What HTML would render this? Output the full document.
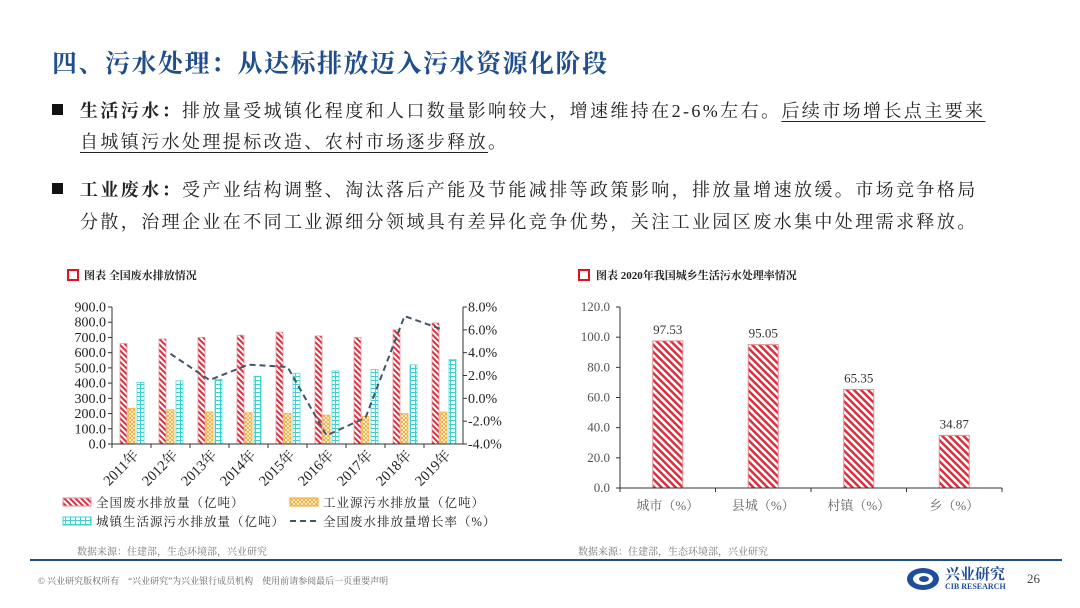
<!DOCTYPE html>
<html><head><meta charset="utf-8">
<style>
html,body{margin:0;padding:0;background:#fff;}
body{width:1080px;height:608px;position:relative;overflow:hidden;font-family:"Liberation Serif","Noto Serif CJK SC",serif;}
.abs{position:absolute;white-space:nowrap;}
.title{left:52px;top:44px;font-size:25px;font-weight:bold;color:#1f4e8c;letter-spacing:1.5px;}
.para{font-size:18px;letter-spacing:2.4px;color:#222;}
.bullet{width:11px;height:11px;background:#111;}
.u{text-decoration:underline;text-underline-offset:4px;}
.cap{font-size:11px;font-weight:bold;color:#222;}
.capbox{width:8px;height:8px;border:2px solid #e0141e;}
.src{font-size:10px;color:#777;}
.foot{font-size:9px;color:#666;}
</style></head><body>
<div class="abs title">四、污水处理：从达标排放迈入污水资源化阶段</div>

<div class="abs bullet" style="left:52px;top:104px"></div>
<div class="abs para" style="left:80px;top:97px"><b>生活污水：</b>排放量受城镇化程度和人口数量影响较大，增速维持在2-6%左右。<span class="u">后续市场增长点主要来</span></div>
<div class="abs para" style="left:80px;top:128px"><span class="u">自城镇污水处理提标改造、农村市场逐步释放</span>。</div>

<div class="abs bullet" style="left:52px;top:183px"></div>
<div class="abs para" style="left:80px;top:176px"><b>工业废水：</b>受产业结构调整、淘汰落后产能及节能减排等政策影响，排放量增速放缓。市场竞争格局</div>
<div class="abs para" style="left:80px;top:208px">分散，治理企业在不同工业源细分领域具有差异化竞争优势，关注工业园区废水集中处理需求释放。</div>

<div class="abs capbox" style="left:67px;top:269px"></div>
<div class="abs cap" style="left:84px;top:267px">图表 全国废水排放情况</div>
<div class="abs capbox" style="left:578px;top:269px"></div>
<div class="abs cap" style="left:596px;top:267px">图表 2020年我国城乡生活污水处理率情况</div>

<svg id="c1" class="abs" style="left:0;top:0" width="540" height="540">
<defs>
<pattern id="hatchR" width="4" height="4" patternUnits="userSpaceOnUse" patternTransform="rotate(-45)"><rect width="4" height="4" fill="#fff"/><rect width="2" height="4" fill="#d9303f"/></pattern>
<pattern id="hatchO" width="4" height="4" patternUnits="userSpaceOnUse"><rect width="4" height="4" fill="#fff"/><path d="M0 0L4 4M4 0L0 4" stroke="#f5a623" stroke-width="0.9"/></pattern>
<pattern id="hatchC" width="5" height="4" patternUnits="userSpaceOnUse"><rect width="5" height="4" fill="#fff"/><path d="M0 0.5H5M0.5 0V4" stroke="#3fd0d0" stroke-width="1"/></pattern>
</defs>
</svg>
<svg id="c2" class="abs" style="left:540px;top:0" width="540" height="540">
<defs>
<pattern id="hatchR2" width="5" height="5" patternUnits="userSpaceOnUse" patternTransform="rotate(-45)"><rect width="5" height="5" fill="#fff"/><rect width="2.5" height="5" fill="#d9303f"/></pattern>
</defs>
</svg>

<div class="abs src" style="left:77px;top:543px">数据来源：住建部，生态环境部，兴业研究</div>
<div class="abs src" style="left:578px;top:543px">数据来源：住建部，生态环境部，兴业研究</div>
<div class="abs" style="left:30px;top:559px;width:1032px;height:2px;background:#1f4e8c"></div>
<div class="abs foot" style="left:38px;top:574px">© 兴业研究版权所有　“兴业研究”为兴业银行成员机构　使用前请参阅最后一页重要声明</div>
<svg class="abs" style="left:905px;top:565px" width="36" height="28">
<ellipse cx="18" cy="14" rx="16" ry="11" fill="#1f4e9c"/><ellipse cx="18" cy="14" rx="10" ry="6" fill="#fff"/><ellipse cx="19" cy="14" rx="5" ry="3" fill="#1f4e9c"/></svg>
<div class="abs" style="left:945px;top:563px;font-size:15px;font-weight:bold;color:#1f4e9c">兴业研究</div>
<div class="abs" style="left:945px;top:582px;font-size:8px;font-weight:bold;color:#1f4e9c">CIB RESEARCH</div>
<div class="abs" style="left:1027px;top:571px;font-size:13px;color:#444">26</div>

<script>
const years = ["2011年","2012年","2013年","2014年","2015年","2016年","2017年","2018年","2019年"];
const totalDischarge = [660,690,700,715,735,710,700,750,795];
const industrialDischarge = [235,225,210,205,200,190,180,200,210];
const domesticDischarge = [405,415,425,445,465,480,490,520,555];
const growthRate = [null,3.9,1.6,2.95,2.75,-3.25,-1.7,7.2,6.0];
const leftTicks = [0,100,200,300,400,500,600,700,800,900];
const rightTicks = [-4,-2,0,2,4,6,8];

const cats2 = ["城市（%）","县城（%）","村镇（%）","乡（%）"];
const rates = [97.53,95.05,65.35,34.87];
const ticks2 = [0,20,40,60,80,100,120];

const NS="http://www.w3.org/2000/svg";
function mk(svg,tag,attrs){const e=document.createElementNS(NS,tag);for(const k in attrs)e.setAttribute(k,attrs[k]);svg.appendChild(e);return e;}
const FONT='"Liberation Serif","Noto Serif CJK SC",serif';

// Chart 1
(function(){
const s=document.getElementById('c1');
const x0=112,x1=463,y0=444,y1=307;
const yL=v=>y0-(v/900)*(y0-y1);
const yR=v=>y0-((v+4)/12)*(y0-y1);
const cw=(x1-x0)/years.length;
const cx=i=>x0+cw*i;
leftTicks.forEach(t=>{
  const tk=mk(s,'line',{x1:x0-4,x2:x0,y1:yL(t),y2:yL(t),stroke:'#333'});
  
  
  const tx=mk(s,'text',{x:x0-6,y:yL(t)+4.5,'text-anchor':'end','font-size':14,fill:'#222','font-family':FONT});
  tx.textContent=t.toFixed(1);
  
  
});
rightTicks.forEach(t=>{
  const tk=mk(s,'line',{x1:x1,x2:x1+4,y1:yR(t),y2:yR(t),stroke:'#333'});
  
  
  const tx=mk(s,'text',{x:x1+5,y:yR(t)+4.5,'font-size':14,fill:'#222','font-family':FONT});
  tx.textContent=t.toFixed(1)+'%';
  
  
});
years.forEach((y,i)=>{
  const b=cx(i);
  const r=mk(s,'rect',{x:b+8,y:yL(totalDischarge[i]),width:7,height:y0-yL(totalDischarge[i]),fill:'url(#hatchR)',stroke:'#e88a94','stroke-width':0.7});
  
  
  const o=mk(s,'rect',{x:b+16,y:yL(industrialDischarge[i]),width:7,height:y0-yL(industrialDischarge[i]),fill:'url(#hatchO)',stroke:'#f5a623','stroke-width':0.7});
  
  
  const c=mk(s,'rect',{x:b+25,y:yL(domesticDischarge[i]),width:7,height:y0-yL(domesticDischarge[i]),fill:'url(#hatchC)',stroke:'#3fd0d0','stroke-width':0.7});
  
  
  const tk=mk(s,'line',{x1:b,x2:b,y1:y0,y2:y0+4,stroke:'#333'});
  
  
  const lx=b+cw/2+8, ly=y0+12;
  const tx=mk(s,'text',{x:lx,y:ly,'text-anchor':'end','font-size':14.5,fill:'#222','font-family':FONT,transform:`rotate(-45 ${lx} ${ly})`});
  tx.textContent=y;
  
  
});
const ax=mk(s,'path',{d:`M${x0} ${y1}V${y0}H${x1}V${y1}`,stroke:'#333',fill:'none'});


let d='';
growthRate.forEach((v,i)=>{if(v===null)return;d+=(d?'L':'M')+(cx(i)+cw/2)+' '+yR(v);});
const ln=mk(s,'path',{d:d,stroke:'#44546a','stroke-width':2,'stroke-dasharray':'6 4',fill:'none'});


// legend
const leg=[['url(#hatchR)','#e88a94','全国废水排放量（亿吨）',63,503,'rect'],['url(#hatchO)','#f5a623','工业源污水排放量（亿吨）',290,503,'rect'],['url(#hatchC)','#3fd0d0','城镇生活源污水排放量（亿吨）',63,522,'rect'],['','#44546a','全国废水排放量增长率（%）',290,522,'line']];
leg.forEach(l=>{
  if(l[5]==='rect'){const r=mk(s,'rect',{x:l[3],y:l[4]-5,width:28,height:8,fill:l[0],stroke:l[1]});}
  else{const r=mk(s,'line',{x1:l[3],x2:l[3]+28,y1:l[4]-1,y2:l[4]-1,stroke:l[1],'stroke-width':2,'stroke-dasharray':'6 4'});}
  const t=mk(s,'text',{x:l[3]+33,y:l[4]+4,'font-size':12.5,fill:'#222','font-family':FONT,'letter-spacing':1});
  t.textContent=l[2];
  
  
});
})();

// Chart 2
(function(){
const s=document.getElementById('c2');
const x0=80,x1=462,y0=488,y1=307;
const y=v=>y0-(v/120)*(y0-y1);
const cw=(x1-x0)/cats2.length;
ticks2.forEach(t=>{
  const tk=mk(s,'line',{x1:x0-4,x2:x0,y1:y(t),y2:y(t),stroke:'#333'});
  
  
  const tx=mk(s,'text',{x:x0-10,y:y(t)+4,'text-anchor':'end','font-size':13,fill:'#555','font-family':FONT});
  tx.textContent=t.toFixed(1);
  
  
});
cats2.forEach((c,i)=>{
  const cx=x0+cw*(i+0.5);
  const b=mk(s,'rect',{x:cx-15,y:y(rates[i]),width:30,height:y0-y(rates[i]),fill:'url(#hatchR2)',stroke:'#e88a94','stroke-width':1});
  
  
  const v=mk(s,'text',{x:cx,y:y(rates[i])-7,'text-anchor':'middle','font-size':13,fill:'#333','font-family':FONT});
  v.textContent=rates[i].toFixed(2);
  
  
  const l=mk(s,'text',{x:cx,y:y0+22,'text-anchor':'middle','font-size':13,fill:'#666','font-family':FONT});
  l.textContent=c;
  
  
  const tk=mk(s,'line',{x1:x0+cw*(i+1),x2:x0+cw*(i+1),y1:y0,y2:y0+4,stroke:'#333'});
  
  
});
const ax=mk(s,'path',{d:`M${x0} ${y1}V${y0+4}M${x0} ${y0}H${x1}`,stroke:'#333',fill:'none'});


})();
</script>
</body></html>
